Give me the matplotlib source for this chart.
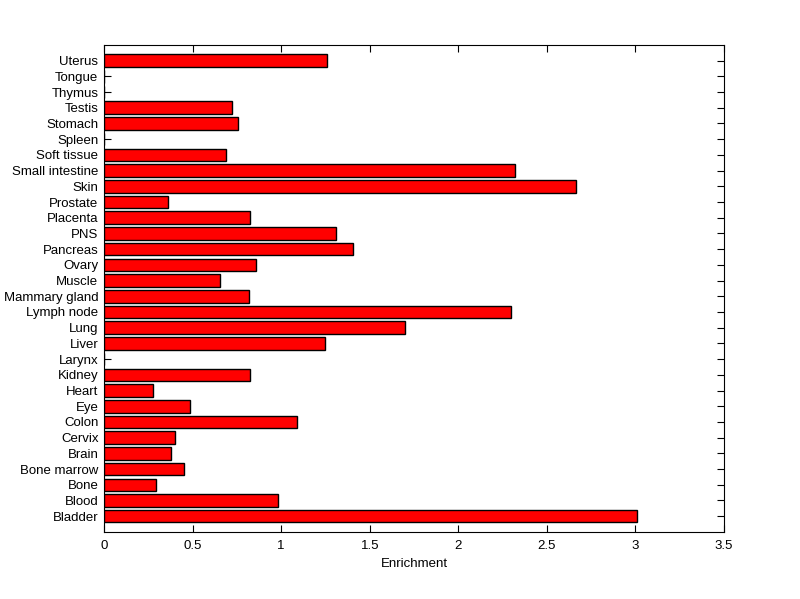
import matplotlib
matplotlib.use("Agg")
from matplotlib import pyplot as plt
import numpy as np

tissues = ["Bladder", "Blood", "Bone", "Bone marrow", "Brain", "Cervix", "Colon",
           "Eye", "Heart", "Kidney", "Larynx", "Liver", "Lung", "Lymph node",
           "Mammary gland", "Muscle", "Ovary", "Pancreas", "PNS", "Placenta",
           "Prostate", "Skin", "Small intestine", "Soft tissue", "Spleen",
           "Stomach", "Testis", "Thymus", "Tongue", "Uterus"]
enrichment = [3.009, 0.981, 0.296, 0.449, 0.381, 0.398, 1.088,
              0.483, 0.274, 0.822, 0.0, 1.247, 1.699, 2.296,
              0.817, 0.653, 0.856, 1.405, 1.309, 0.822,
              0.364, 2.666, 2.319, 0.687, 0.0,
              0.755, 0.720, 0.0, 0.0, 1.258]
xticks = [0, 0.5, 1, 1.5, 2, 2.5, 3, 3.5]
xtick_labels = ["0", "0.5", "1", "1.5", "2", "2.5", "3", "3.5"]

plt.rcParams['font.family'] = ['Liberation Sans', 'DejaVu Sans']
plt.rcParams['font.size'] = 9.5

fig = plt.figure(figsize=(8, 5.99), dpi=100)
ax = fig.add_axes([0.13, 0.112, 0.775, 0.813])

pos = np.arange(1, len(tissues) + 1)
ax.barh(pos, enrichment, height=0.8, color="#ff0000", edgecolor="black", linewidth=1.0, zorder=3)

ax.set_xlim(0, 3.5)
ax.set_ylim(0, len(tissues) + 1)
ax.set_yticks(pos)
ax.set_yticklabels(tissues)
ax.set_xticks(xticks)
ax.set_xticklabels(xtick_labels)
ax.tick_params(axis="y", direction="in", length=5, width=0.8, right=True, pad=4)
ax.tick_params(axis="x", direction="in", length=5, width=0.8, top=True, pad=6)
for s in ax.spines.values():
    s.set_linewidth(0.8)
ax.set_xlabel("Enrichment", labelpad=4)

fig.savefig("out.png", dpi=100, facecolor="white")
